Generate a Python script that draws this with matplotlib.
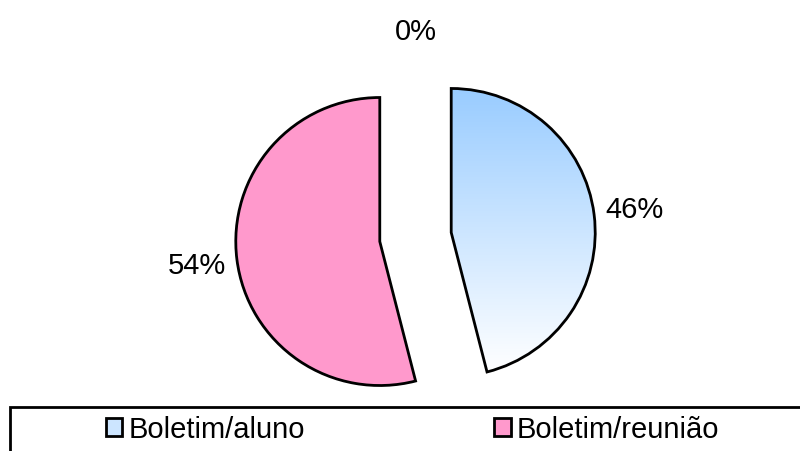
import numpy as np
import matplotlib
matplotlib.use("Agg")
import matplotlib.pyplot as plt
from matplotlib.patches import Patch, Rectangle
from matplotlib.colors import to_rgb

plt.rcParams['font.family'] = ['Liberation Sans', 'DejaVu Sans']

# data
categorias = ['Boletim/aluno', 'Boletim/reunião', '']
valores = [46, 54, 0]
rotulos = [f'{v}%' for v in valores]
cores = ['#99ccff', '#ff99cc', '#ffffff']
afastamento = [0.25, 0.25, 0.15]

fs = 21

fig = plt.figure(figsize=(8, 4.52), dpi=100)
ax = fig.add_axes([0, 0, 1, 1])

wedges, texts = ax.pie(valores, explode=afastamento, labels=rotulos,
                       colors=cores, startangle=90, counterclock=False,
                       radius=1, labeldistance=1.28,
                       wedgeprops=dict(edgecolor='black', linewidth=2),
                       textprops=dict(fontsize=fs, color='black'))
for t in texts:
    t.set_ha('center')
    t.set_va('center')
wedges[2].set_visible(False)

# gradient fill for the first slice (blue on top, white at the bottom)
w = wedges[0]
w.set_facecolor('none')
w.set_zorder(3)
bb = w.get_path().get_extents(w.get_patch_transform())
topo = np.array(to_rgb('#99ccff'))
base = np.array(to_rgb('#ffffff'))
tt = np.linspace(0, 1, 256)[:, None]
grad = (topo * (1 - tt) + base * tt)[:, None, :]
img = ax.imshow(grad, extent=(bb.x0, bb.x1, bb.y0, bb.y1), origin='upper',
                aspect='auto', zorder=2, interpolation='bilinear')
img.set_clip_path(w)

ax.set_xlim(-415.5 / 144, 384.5 / 144)
ax.set_ylim((238 - 452) / 144, 238 / 144)
ax.set_aspect('auto')
ax.axis('off')

# legend
handles = [Patch(facecolor='#cce5ff', edgecolor='black', linewidth=2),
           Patch(facecolor=cores[1], edgecolor='black', linewidth=2)]
fig.legend(handles, categorias[:2], loc='center left',
           bbox_to_anchor=(106 / 800, (452 - 430) / 452), ncol=2,
           frameon=False, fontsize=fs, handlelength=0.56, handleheight=0.56,
           handletextpad=0.2, columnspacing=6.5, borderpad=0,
           borderaxespad=0)
fig.add_artist(Rectangle((10 / 800, -0.1), 1.2, (452 - 408) / 452 + 0.1,
                         transform=fig.transFigure, fill=False,
                         edgecolor='black', linewidth=2))

plt.savefig("out.png", dpi=100)
